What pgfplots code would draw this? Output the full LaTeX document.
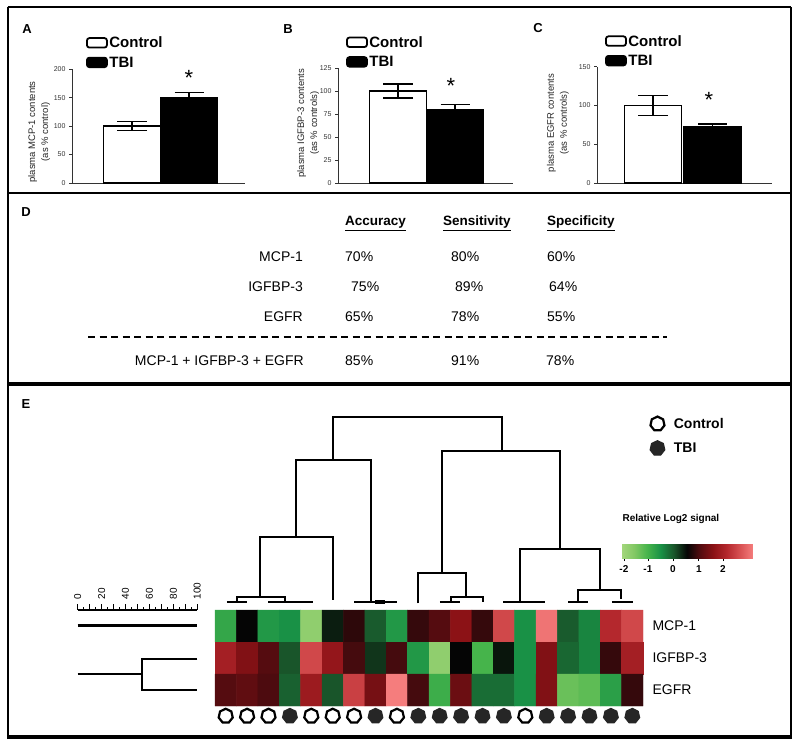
\documentclass[border=0pt]{standalone}
\usepackage{pgfplots}
\pgfplotsset{compat=1.18}
\usepackage{fontspec}
\setmainfont{Liberation Sans}
\usetikzlibrary{calc}

\pgfdeclareplotmark{hept}{%
  \pgfpathmoveto{\pgfpointpolar{90}{\pgfplotmarksize}}%
  \pgfpathlineto{\pgfpointpolar{141.43}{\pgfplotmarksize}}%
  \pgfpathlineto{\pgfpointpolar{192.86}{\pgfplotmarksize}}%
  \pgfpathlineto{\pgfpointpolar{244.29}{\pgfplotmarksize}}%
  \pgfpathlineto{\pgfpointpolar{295.71}{\pgfplotmarksize}}%
  \pgfpathlineto{\pgfpointpolar{347.14}{\pgfplotmarksize}}%
  \pgfpathlineto{\pgfpointpolar{38.57}{\pgfplotmarksize}}%
  \pgfpathclose
  \pgfusepathqfillstroke
}

\pgfplotsset{
  barpanel/.style={
    scale only axis, anchor=south west,
    axis lines=left, axis line style={-, line width=0.9pt, black!80},
    xmin=0, xmax=173, ymin=0,
    xtick=\empty,
    tick align=outside, major tick length=3pt,
    tick style={line width=0.8pt, black!80},
    yticklabel style={font=\fontsize{7}{8}\selectfont, black!80},
    /pgf/number format/assume math mode=true,
    ylabel style={anchor=center, align=center, font=\fontsize{9.5}{13}\selectfont, black!85},
    legend style={draw=none, fill=none, anchor=north west, inner sep=0pt,
      font=\bfseries\fontsize{15}{16}\selectfont, row sep=4.5pt,
      nodes={inner sep=1.5pt}},
    legend cell align=left,
    clip=false,
  },
  ctrlbar/.style={ybar, bar width=57, bar shift=0pt, fill=white, draw=black, line width=1.3pt,
    legend image code/.code={\draw[line width=1.8pt, rounded corners=2.5pt, fill=white, draw=black] (0pt,-4.5pt) rectangle (20pt,5pt);},
    error bars/.cd, y dir=both, y explicit,
    error bar style={line width=1.3pt, black},
    error mark options={rotate=90, mark size=15pt, line width=1.3pt, black}},
  tbibar/.style={ybar, bar width=57, bar shift=0pt, fill=black, draw=black, line width=1.3pt,
    legend image code/.code={\draw[line width=1.8pt, rounded corners=2.5pt, fill=black, draw=black] (0pt,-4.5pt) rectangle (20pt,5pt);},
    error bars/.cd, y dir=both, y explicit,
    error bar style={line width=1.3pt, black},
    error mark options={rotate=90, mark size=14.5pt, line width=1.3pt, black}},
  dend/.style={black, line width=2pt, no marks, forget plot},
}

\pgfplotstableread{
x y v
1 1 -1.3
2 1 0.0
3 1 -1.1
4 1 -1.0
5 1 -2.2
6 1 -0.15
7 1 0.25
8 1 -0.55
9 1 -1.1
10 1 0.3
11 1 0.5
12 1 1.0
13 1 0.3
14 1 1.9
15 1 -1.0
16 1 2.4
17 1 -0.55
18 1 -0.9
19 1 1.5
20 1 1.9
1 2 1.3
2 2 0.9
3 2 0.5
4 2 -0.5
5 2 1.9
6 2 1.1
7 2 0.4
8 2 -0.3
9 2 0.4
10 2 -1.1
11 2 -2.2
12 2 0.0
13 2 -1.5
14 2 -0.1
15 2 -1.0
16 2 0.9
17 2 -0.65
18 2 -0.9
19 2 0.3
20 2 1.3
1 3 0.5
2 3 0.6
3 3 0.45
4 3 -0.6
5 3 1.2
6 3 -0.5
7 3 1.8
8 3 0.8
9 3 2.5
10 3 0.4
11 3 -1.4
12 3 0.7
13 3 -0.7
14 3 -0.7
15 3 -1.0
16 3 0.9
17 3 -1.8
18 3 -1.7
19 3 -1.2
20 3 0.3
}\heatdata

\begin{document}
\begin{tikzpicture}[x=1pt,y=1pt]
\path[use as bounding box] (0,0) rectangle (800,748);
\fill[white] (0,0) rectangle (800,748);

% frame
\draw[line width=2pt] (7.5,740.5) -- (791,740.5);
\draw[line width=1.6pt] (8,9) -- (8,740.5);
\draw[line width=2pt] (790.5,9) -- (790.5,740.5);
\draw[line width=1.5pt] (8,555) -- (790.5,555);
\draw[line width=4.5pt] (8,364) -- (790.5,364);
\draw[line width=4pt] (7,11) -- (791.5,11);

% panel letters
\node[font=\bfseries\fontsize{13}{15}\selectfont] at (27,719) {A};
\node[font=\bfseries\fontsize{13}{15}\selectfont] at (288,719) {B};
\node[font=\bfseries\fontsize{13}{15}\selectfont] at (538,720) {C};
\node[font=\bfseries\fontsize{13}{15}\selectfont] at (26,536) {D};
\node[font=\bfseries\fontsize{13}{15}\selectfont] at (26,343.5) {E};

% ---------- Panel A ----------
\begin{axis}[barpanel, at={(72pt,565pt)}, width=173pt, height=113.7pt, ymax=200,
  ytick={0,50,100,150,200},
  ylabel={plasma MCP-1 contents\\(as \% control)},
  ylabel style={at={(axis description cs:-0.19,0.449)}},
  legend style={at={(axis description cs:0.08,1.30)}}]
\addplot[ctrlbar] coordinates {(60,100) +- (0,8)};
\addlegendentry{Control}
\addplot[tbibar] coordinates {(117,150) +- (0,9)};
\addlegendentry{TBI}
\node[font=\fontsize{22}{22}\selectfont] at (axis cs:117,185) {*};
\end{axis}

% ---------- Panel B ----------
\begin{axis}[barpanel, at={(338pt,565pt)}, width=175pt, height=115pt, xmax=175, ymax=125,
  ytick={0,25,50,75,100,125},
  ylabel={plasma IGFBP-3 contents\\(as \% controls)},
  ylabel style={at={(axis description cs:-0.17,0.52)}},
  legend style={at={(axis description cs:0.045,1.29)}}]
\addplot[ctrlbar] coordinates {(60,100) +- (0,7.5)};
\addlegendentry{Control}
\addplot[tbibar] coordinates {(117,80) +- (0,5.5)};
\addlegendentry{TBI}
\node[font=\fontsize{22}{22}\selectfont] at (axis cs:113,106) {*};
\end{axis}

% ---------- Panel C ----------
\begin{axis}[barpanel, at={(597pt,565pt)}, width=175pt, height=116.3pt, xmax=175, ymax=150,
  ytick={0,50,100,150},
  ylabel={plasma EGFR contents\\(as \% controls)},
  ylabel style={at={(axis description cs:-0.223,0.516)}},
  legend style={at={(axis description cs:0.045,1.286)}}]
\addplot[ctrlbar] coordinates {(56,100) +- (0,12.7)};
\addlegendentry{Control}
\addplot[tbibar] coordinates {(115.5,72.5) +- (0,3.5)};
\addlegendentry{TBI}
\node[font=\fontsize{22}{22}\selectfont] at (axis cs:112,107) {*};
\end{axis}

% ---------- Panel D (table) ----------
\begin{scope}[every node/.style={font=\fontsize{14}{16}\selectfont, inner sep=0pt}]
\node[anchor=base west, font=\bfseries\fontsize{13.5}{16}\selectfont] at (345,522) {\underline{Accuracy}};
\node[anchor=base west, font=\bfseries\fontsize{13.5}{16}\selectfont] at (443,522) {\underline{Sensitivity}};
\node[anchor=base west, font=\bfseries\fontsize{13.5}{16}\selectfont] at (547,522) {\underline{Specificity}};
\node[anchor=base east] at (303,486) {MCP-1};
\node[anchor=base east] at (303,456) {IGFBP-3};
\node[anchor=base east] at (303,426.5) {EGFR};
\node[anchor=base east] at (304,383) {MCP-1 + IGFBP-3 + EGFR};
\node[anchor=base west] at (345,486) {70\%};
\node[anchor=base west] at (451,486) {80\%};
\node[anchor=base west] at (547,486) {60\%};
\node[anchor=base west] at (351,456) {75\%};
\node[anchor=base west] at (455,456) {89\%};
\node[anchor=base west] at (549,456) {64\%};
\node[anchor=base west] at (345,426.5) {65\%};
\node[anchor=base west] at (451,426.5) {78\%};
\node[anchor=base west] at (547,426.5) {55\%};
\node[anchor=base west] at (345,383) {85\%};
\node[anchor=base west] at (451,383) {91\%};
\node[anchor=base west] at (546,383) {78\%};
\end{scope}
\draw[line width=2.6pt, dash pattern=on 7pt off 4.5pt] (88,411) -- (667,411);

% ---------- Panel E : heatmap + dendrogram ----------
\begin{axis}[at={(215pt,19.6pt)}, anchor=south west, scale only axis,
  width=428pt, height=320pt,
  xmin=0.5, xmax=20.5, ymin=-5.8, ymax=4.2, y dir=reverse,
  hide axis, clip=false,
  colormap={hm}{rgb255(0)=(165,215,125) rgb255(1)=(130,200,100) rgb255(2)=(70,180,75)
    rgb255(3)=(25,145,70) rgb255(4)=(25,85,42) rgb255(5)=(5,5,5) rgb255(6)=(85,12,16)
    rgb255(7)=(140,18,22) rgb255(8)=(180,40,45) rgb255(9)=(215,80,82) rgb255(10)=(245,125,125)},
  point meta min=-2.5, point meta max=2.5,
  colorbar horizontal,
  colorbar style={
    hide x axis=false, hide y axis=false,
    at={($(parent axis.north west)+(406pt,-120.6pt)$)}, anchor=north west,
    scale only axis, width=132pt, height=21pt,
    xtick={-2.39,-1.48,-0.53,0.45,1.36}, xticklabels={-2,-1,0,1,2},
    minor x tick num=3,
    xtick pos=bottom,
    /pgf/number format/assume math mode=true,
    xticklabel style={font=\bfseries\fontsize{10}{12}\selectfont, yshift=-1pt},
    major tick length=2.5pt, minor tick length=1.5pt, tick align=outside,
    tick style={black, line width=0.8pt},
    axis line style={draw=none},
    title={Relative Log2 signal},
    title style={at={(0,1)}, anchor=south west, xshift=-2pt, yshift=4pt,
      font=\bfseries\fontsize{10}{12}\selectfont},
  },
  legend style={at={(axis description cs:1.016,0.977)}, anchor=north west, draw=none, fill=none,
    font=\bfseries\fontsize{14}{16}\selectfont, row sep=9pt, column sep=7pt, inner sep=0pt},
  legend cell align=left,
]
\addplot[only marks, mark=hept, mark size=7.2pt, mark options={fill=white, draw=black, line width=2.2pt}]
  coordinates {(1,3.81) (2,3.81) (3,3.81) (5,3.81) (6,3.81) (7,3.81) (9,3.81) (15,3.81)};
\addlegendentry{Control}
\addplot[only marks, mark=hept, mark size=7.6pt, mark options={fill=black!85, draw=black!85, line width=1pt}]
  coordinates {(4,3.81) (8,3.81) (10,3.81) (11,3.81) (12,3.81) (13,3.81) (14,3.81) (16,3.81) (17,3.81) (18,3.81) (19,3.81) (20,3.81)};
\addlegendentry{TBI}
\addplot[matrix plot*, mesh/cols=20, point meta=explicit, forget plot] table[x=x, y=y, meta=v] {\heatdata};
% dendrogram
\addplot[dend] coordinates {(6.00,-4.19) (6.00,-5.54) (13.90,-5.54) (13.90,-4.48)};
\addplot[dend] coordinates {(4.29,-1.79) (4.29,-4.19) (7.78,-4.19) (7.78,0.25)};
\addplot[dend] coordinates {(2.60,0.084) (2.60,-1.79) (6.00,-1.79) (6.00,0.19)};
\addplot[dend] coordinates {(1.51,0.25) (1.51,0.084) (3.77,0.084) (3.77,0.25)};
\addplot[dend] coordinates {(1.05,0.25) (1.98,0.25)};
\addplot[dend] coordinates {(2.99,0.25) (5.07,0.25)};
\addplot[dend] coordinates {(7.00,0.25) (8.99,0.25)};
\addplot[dend, line width=4pt] coordinates {(7.98,0.25) (8.44,0.25)};
\addplot[dend] coordinates {(11.12,-0.67) (11.12,-4.48) (16.62,-4.48) (16.62,-1.41)};
\addplot[dend] coordinates {(10.00,0.29) (10.00,-0.67) (12.21,-0.67) (12.21,0.084)};
\addplot[dend] coordinates {(11.51,0.25) (11.51,0.084) (13.01,0.084) (13.01,0.25)};
\addplot[dend] coordinates {(11.01,0.25) (11.95,0.25)};
\addplot[dend] coordinates {(14.75,0.24) (14.75,-1.41) (18.49,-1.41) (18.49,-0.125)};
\addplot[dend] coordinates {(13.97,0.24) (15.92,0.24)};
\addplot[dend] coordinates {(17.48,0.24) (17.48,-0.125) (19.46,-0.125) (19.46,0.156)};
\addplot[dend] coordinates {(17.01,0.24) (17.94,0.24)};
\addplot[dend] coordinates {(19.04,0.24) (20.05,0.24)};
\node[anchor=west, font=\fontsize{14}{16}\selectfont, xshift=6pt] at (axis cs:20.5,1) {MCP-1};
\node[anchor=west, font=\fontsize{14}{16}\selectfont, xshift=6pt] at (axis cs:20.5,2) {IGFBP-3};
\node[anchor=west, font=\fontsize{14}{16}\selectfont, xshift=6pt] at (axis cs:20.5,3) {EGFR};
\end{axis}

% row dendrogram with scale
\begin{axis}[at={(77.7pt,42pt)}, anchor=south west, scale only axis,
  width=119.6pt, height=96pt,
  xmin=0, xmax=100, ymin=0.5, ymax=3.5, y dir=reverse,
  axis x line=top, axis y line=none, axis line style={-, line width=1.8pt},
  xtick={0,10,...,100}, xticklabels={0,,20,,40,,60,,80,,100},
  minor x tick num=1, tick align=outside,
  major tick length=6pt, minor tick length=3pt,
  tick style={line width=1pt, black},
  ytick=\empty,
  /pgf/number format/assume math mode=true,
  xticklabel style={rotate=90, anchor=west, font=\fontsize{10}{12}\selectfont, xshift=1pt},
  clip=false]
\addplot[black, line width=3pt, no marks] coordinates {(0,0.99) (100,0.99)};
\addplot[black, line width=2pt, no marks] coordinates {(0,2.49) (53.5,2.49)};
\addplot[black, line width=2pt, no marks] coordinates {(100,2.03) (53.5,2.03) (53.5,3.0) (100,3.0)};
\end{axis}

\end{tikzpicture}
\end{document}
